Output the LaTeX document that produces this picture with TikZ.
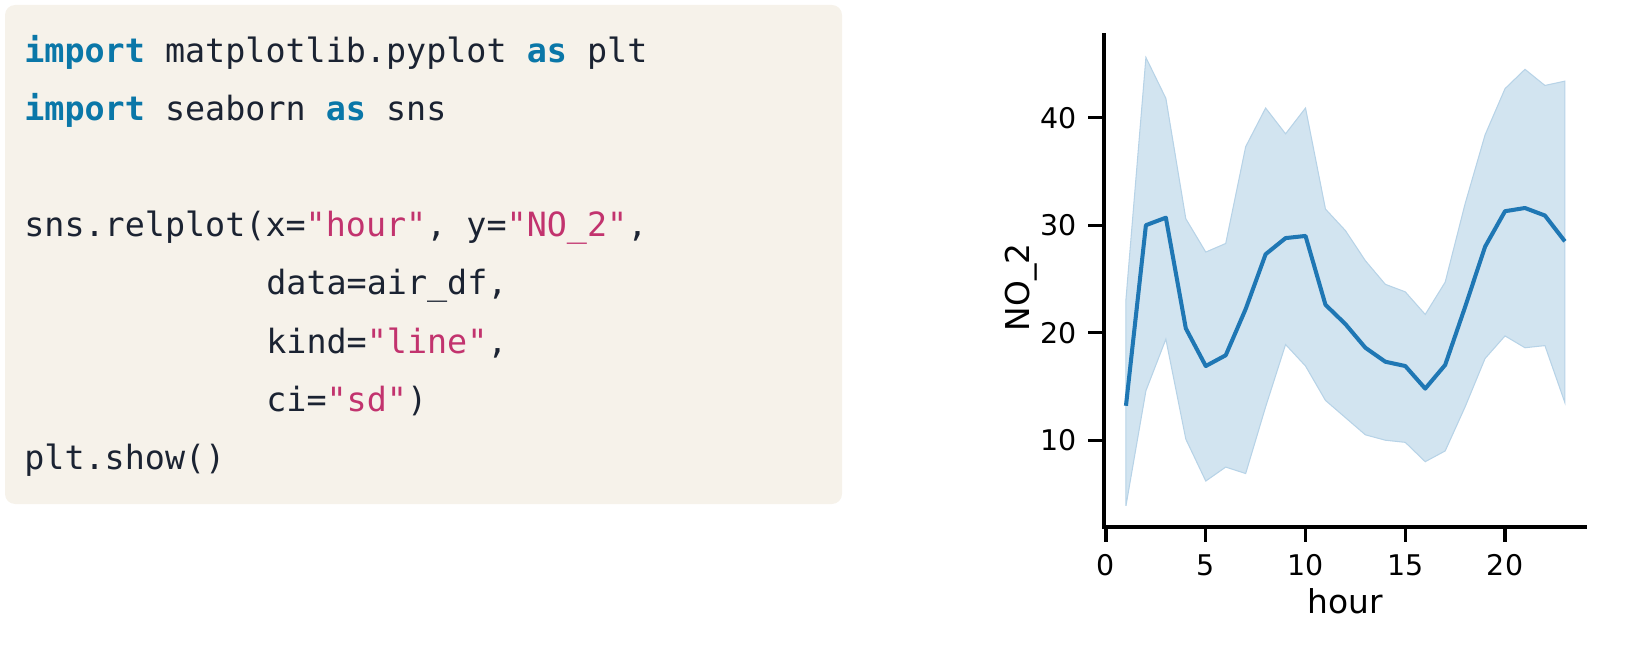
\documentclass[tikz,border=0pt]{standalone}
\usepackage{fontspec}
\newfontfamily\codefont{DejaVu Sans Mono}
\newfontfamily\plotfont{DejaVu Sans}
\definecolor{codebg}{HTML}{F6F2EA}
\definecolor{codetext}{HTML}{1B2332}
\definecolor{codekw}{HTML}{0A77A8}
\definecolor{codestr}{HTML}{C2336E}
\definecolor{lineblue}{HTML}{1F77B4}
\newcommand{\pykw}[1]{\textcolor{codekw}{\bfseries #1}}
\newcommand{\pystr}[1]{\textcolor{codestr}{#1}}
\begin{document}
\begin{tikzpicture}[x=0.02cm, y=-0.02cm,
   codebox/.style={fill=codebg, rounded corners=5.7pt},
   codeline/.style={anchor=base west, inner sep=0, text=codetext,
                    font=\codefont\fontsize{19}{19}\selectfont},
   ticklab/.style={inner sep=0, font=\plotfont\fontsize{16.2}{16.2}\selectfont},
   axislab/.style={inner sep=0, font=\plotfont\fontsize{18.7}{18.7}\selectfont},
   axisline/.style={line width=1.8pt},
   band/.style={fill=lineblue!20, draw=lineblue!32, line width=0.6pt},
   meanline/.style={lineblue, line width=2.3pt, line join=round}]

\useasboundingbox (0,0) rectangle (1628,648);

% code
\fill[codebox] (5,5) rectangle (842,504);
\node[codeline] (imp1) at (24,63) {\pykw{import} matplotlib.pyplot \pykw{as} plt};
\node[codeline] (imp2) at (24,121) {\pykw{import} seaborn \pykw{as} sns};
\node[codeline] (call) at (24,237) {sns.relplot(x=\pystr{"hour"}, y=\pystr{"NO\_2"},};
\node[codeline] (argdata) at (266,295) {data=air\_df,};
\node[codeline] (argkind) at (266,353) {kind=\pystr{"line"},};
\node[codeline] (argci) at (266,411) {ci=\pystr{"sd"})};
\node[codeline] (show) at (24,469) {plt.show()};

% plot
\begin{scope}[shift={(1106,547.7)}, xscale=19.95, yscale=-10.75]
  \draw[band] plot coordinates {(1,23.1) (2,45.6) (3,41.8) (4,30.6) (5,27.5) (6,28.3)
      (7,37.3) (8,40.9) (9,38.5) (10,40.9) (11,31.5) (12,29.5) (13,26.7) (14,24.5)
      (15,23.8) (16,21.7) (17,24.7) (18,32.0) (19,38.4) (20,42.7) (21,44.5) (22,43.0) (23,43.4)}
    -- plot coordinates {(23,13.5) (22,18.8) (21,18.6) (20,19.7) (19,17.6) (18,13.1)
      (17,9.0) (16,8.0) (15,9.8) (14,10.0) (13,10.5) (12,12.1) (11,13.7) (10,16.9)
      (9,18.9) (8,13.1) (7,6.9) (6,7.5) (5,6.2) (4,10.1) (3,19.4) (2,14.6) (1,3.9)} -- cycle;
  \draw[meanline] plot coordinates {(1,13.2) (2,30.0) (3,30.7) (4,20.4) (5,16.9) (6,17.9)
      (7,22.2) (8,27.3) (9,28.8) (10,29.0) (11,22.6) (12,20.8) (13,18.6) (14,17.3)
      (15,16.9) (16,14.8) (17,17.0) (18,22.4) (19,28.0) (20,31.3) (21,31.6) (22,30.9) (23,28.5)};
\end{scope}

\draw[axisline] (1104,33.4) -- (1104,527) -- (1587,527);
\foreach \h in {0,5,10,15,20}
  \draw[axisline] ({1106+19.95*\h},527) -- ++(0,15)
    node[ticklab, anchor=north, yshift=-6.3pt] (xt\h) {\h};
\foreach \v in {10,20,30,40}
  \draw[axisline] (1104,{547.7-10.75*\v}) -- ++(-16,0)
    node[ticklab, anchor=east, xshift=-5.5pt] (yt\v) {\v};

\node[axislab] (xlab) at (1345.5,601) {hour};
\node[axislab, rotate=90, anchor=base] (ylab) at (1029,287.5) {NO\_2};

\end{tikzpicture}
\end{document}
